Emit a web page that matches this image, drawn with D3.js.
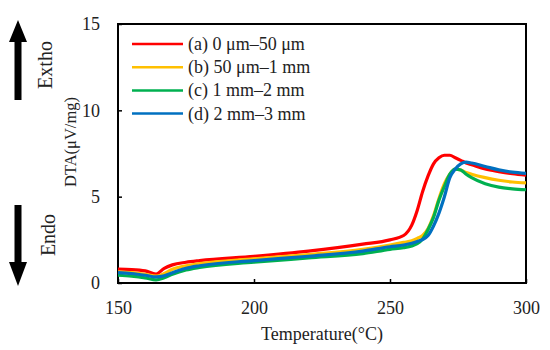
<!DOCTYPE html>
<html><head><meta charset="utf-8">
<script src="https://cdn.jsdelivr.net/npm/d3@7/dist/d3.min.js"></script>
<style>body{margin:0;background:#fff}svg{display:block}text{font-family:"Liberation Serif","Times New Roman",serif;fill:#222}</style>
</head><body><svg id="c" width="550" height="350"></svg>
<script>
const temps = [150,155,160,164,167,170,175,180,200,220,240,250,255,258,260,262,264,266,268,270,272,274,276,278,280,285,290,295,300];
const seriesA = [0.8,0.78,0.7,0.52,0.85,1.05,1.2,1.3,1.55,1.85,2.25,2.5,2.75,3.35,4.2,5.3,6.2,6.9,7.25,7.4,7.4,7.25,7.1,6.95,6.85,6.6,6.45,6.33,6.25];
const seriesB = [0.65,0.6,0.5,0.4,0.55,0.8,1.0,1.12,1.4,1.65,1.95,2.2,2.35,2.45,2.58,2.75,3.15,3.9,4.9,5.75,6.3,6.6,6.55,6.4,6.3,6.1,5.95,5.85,5.8];
const seriesC = [0.45,0.4,0.3,0.18,0.3,0.5,0.75,0.9,1.2,1.45,1.7,1.95,2.05,2.15,2.28,2.55,3.1,3.8,4.8,5.6,6.3,6.6,6.55,6.3,6.1,5.75,5.55,5.45,5.4];
const seriesD = [0.6,0.55,0.45,0.35,0.42,0.6,0.85,1.0,1.3,1.55,1.85,2.1,2.2,2.3,2.4,2.52,2.75,3.3,4.05,5.0,6.1,6.6,6.9,7.0,6.95,6.75,6.55,6.42,6.35];
const labels = ["(a) 0 μm–50 μm","(b) 50 μm–1 mm","(c) 1 mm–2 mm","(d) 2 mm–3 mm"];
const colors = ["#ff0000","#ffc000","#00b050","#0070c0"];
const xTicks = [150,200,250,300];
const yTicks = [0,5,10,15];

const svg = d3.select("#c");
const L=118,R=526,T=24,B=283;
const x = d3.scaleLinear().domain([150,300]).range([L,R]);
const y = d3.scaleLinear().domain([0,15]).range([B,T]);

const styleAxis = g=>{g.select(".domain").remove();g.selectAll("line").attr("stroke","#000").attr("stroke-width",1.5);g.selectAll("text").style("font-size","18px").attr("fill","#222").style("font-family","Liberation Serif");};
svg.append("g").attr("transform",`translate(0,${B})`)
  .call(d3.axisBottom(x).tickValues(xTicks).tickSizeInner(-4).tickSizeOuter(0).tickPadding(18)).call(styleAxis);
svg.append("g").attr("transform",`translate(${L},0)`)
  .call(d3.axisLeft(y).tickValues(yTicks).tickSizeInner(-4).tickSizeOuter(0).tickPadding(18)).call(styleAxis);

svg.append("rect").attr("x",L).attr("y",T).attr("width",R-L).attr("height",B-T)
  .attr("fill","none").attr("stroke","#000").attr("stroke-width",2);

const series=[seriesA,seriesB,seriesC,seriesD];
const line = d3.line().x((d,i)=>x(temps[i])).y(d=>y(d)).curve(d3.curveMonotoneX);
series.forEach((s,k)=>{
  svg.append("path").attr("d",line(s)).attr("fill","none").attr("stroke",colors[k]).attr("stroke-width",3.2).attr("stroke-linejoin","round");
});

// legend
labels.forEach((t,k)=>{
  const yy=44+k*23.2;
  svg.append("line").attr("x1",132).attr("x2",183).attr("y1",yy).attr("y2",yy).attr("stroke",colors[k]).attr("stroke-width",2.5);
  svg.append("text").attr("x",188).attr("y",yy+6).style("font-size","18px").text(t);
});

svg.append("text").attr("x",322).attr("y",340).attr("text-anchor","middle").style("font-size","18px").text("Temperature(°C)");
svg.append("text").attr("transform","translate(76,142) rotate(-90)").attr("text-anchor","middle").style("font-size","16.5px").text("DTA(μV/mg)");
svg.append("text").attr("transform","translate(52,65) rotate(-90)").attr("text-anchor","middle").style("font-size","20px").text("Extho");
svg.append("text").attr("transform","translate(55,235) rotate(-90)").attr("text-anchor","middle").style("font-size","20px").text("Endo");

// arrows
const ax=18;
svg.append("path").attr("d",`M${ax},20 L${ax+9},42 L${ax+3.5},42 L${ax+3.5},100 L${ax-3.5},100 L${ax-3.5},42 L${ax-9},42 Z`).attr("fill","#000");
svg.append("path").attr("d",`M${ax},286 L${ax+9},262 L${ax+3.5},262 L${ax+3.5},205 L${ax-3.5},205 L${ax-3.5},262 L${ax-9},262 Z`).attr("fill","#000");
</script></body></html>
